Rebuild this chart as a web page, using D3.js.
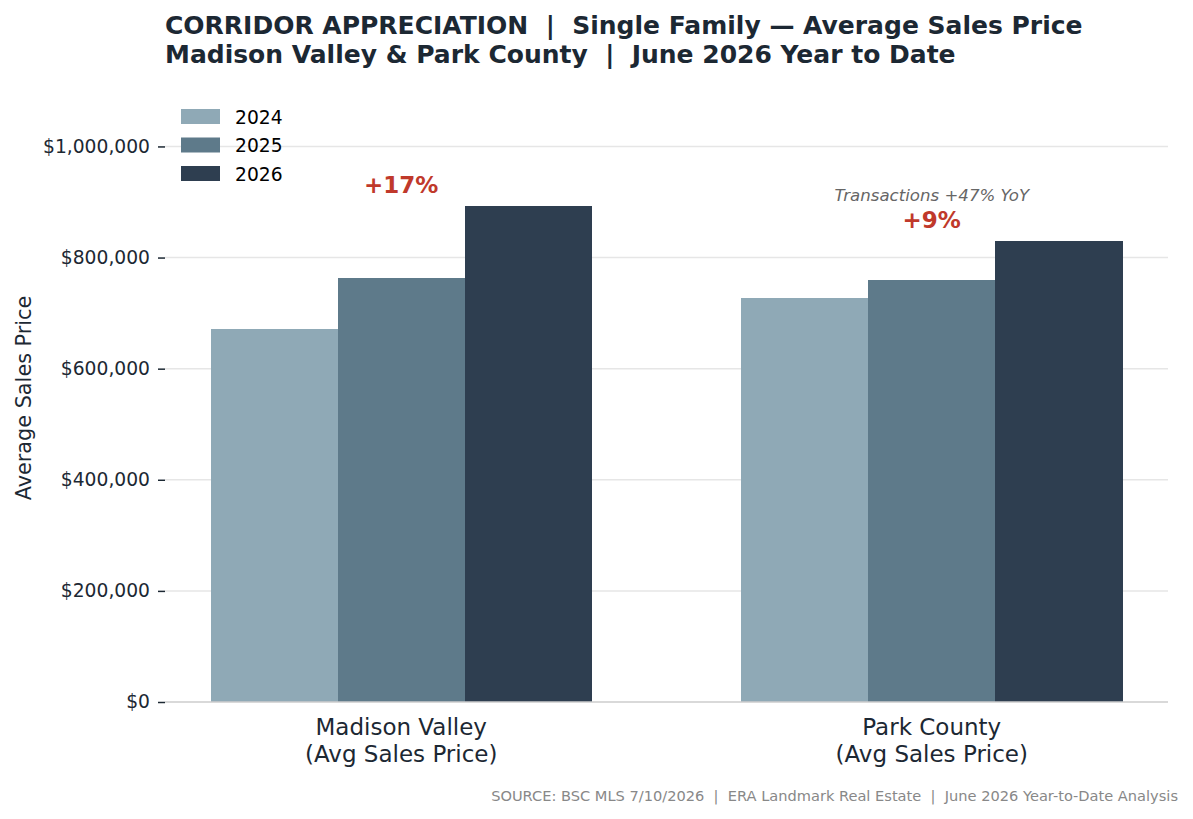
<!DOCTYPE html>
<html>
<head>
<meta charset="utf-8">
<script src="https://cdn.jsdelivr.net/npm/d3@7"></script>
<style>
  html, body { margin: 0; padding: 0; background: #ffffff; }
  svg { display: block; font-family: "DejaVu Sans", sans-serif; }
</style>
</head>
<body>
<div id="chart"></div>
<script>
// chart data
const regions = ["Madison Valley", "Park County"];
const years = ["2024", "2025", "2026"];
const prices2024 = [672000, 728000];
const prices2025 = [764000, 759000];
const prices2026 = [892000, 829000];
const yTicks = [0, 200000, 400000, 600000, 800000, 1000000];
const changeLabels = ["+17%", "+9%"];
const noteLabels = ["", "Transactions +47% YoY"];

const seriesValues = { "2024": prices2024, "2025": prices2025, "2026": prices2026 };
const colors = { "2024": "#8fa9b6", "2025": "#5e7a8a", "2026": "#2e3e50" };

const width = 1193;
const height = 819;
const margin = { top: 102, right: 25, bottom: 117, left: 165 };

const svg = d3.select("#chart")
  .append("svg")
  .attr("width", width)
  .attr("height", height);

const x0 = d3.scaleBand()
  .domain(regions)
  .range([margin.left, width - margin.right])
  .paddingInner(0.2818)
  .paddingOuter(0.0862);

const x1 = d3.scaleBand()
  .domain(years)
  .range([0, x0.bandwidth()]);

const y = d3.scaleLinear()
  .domain([0, 1080000])
  .range([height - margin.bottom, margin.top]);

const fmt = d3.format("$,");

// grid
svg.append("g")
  .selectAll("line")
  .data(yTicks.slice(1))
  .enter()
  .append("line")
  .attr("x1", margin.left)
  .attr("x2", width - margin.right)
  .attr("y1", (d) => y(d))
  .attr("y2", (d) => y(d))
  .attr("stroke", "#e6e6e6")
  .attr("stroke-width", 1.5);

// bars
const groups = svg.append("g")
  .selectAll("g")
  .data(regions)
  .enter()
  .append("g")
  .attr("transform", (d) => `translate(${x0(d)},0)`);

groups.selectAll("rect")
  .data((d, i) => years.map((yr) => ({ year: yr, value: seriesValues[yr][i] })))
  .enter()
  .append("rect")
  .attr("x", (d) => x1(d.year))
  .attr("y", (d) => y(d.value))
  .attr("width", x1.bandwidth() + 0.5)
  .attr("height", (d) => y(0) - y(d.value))
  .attr("fill", (d) => colors[d.year])
  .attr("shape-rendering", "crispEdges");

// y axis
const yAxis = svg.append("g")
  .attr("transform", `translate(${margin.left},0)`)
  .call(d3.axisLeft(y).tickValues(yTicks).tickFormat(fmt).tickSize(7).tickPadding(8));
yAxis.select(".domain").remove();
yAxis.selectAll(".tick line").attr("stroke", "#1c2833").attr("stroke-width", 1.5);
yAxis.selectAll(".tick text")
  .attr("fill", "#1c2833")
  .style("font-family", "DejaVu Sans, sans-serif")
  .style("font-size", "18.7px");

// x axis baseline
svg.append("line")
  .attr("x1", margin.left)
  .attr("x2", width - margin.right)
  .attr("y1", y(0))
  .attr("y2", y(0))
  .attr("stroke", "#cccccc")
  .attr("stroke-width", 1.5);

// x labels
const xLab = svg.append("g")
  .selectAll("text")
  .data(regions)
  .enter()
  .append("text")
  .attr("x", (d) => x0(d) + x0.bandwidth() / 2)
  .attr("y", y(0) + 33)
  .attr("text-anchor", "middle")
  .attr("fill", "#1c2833")
  .style("font-size", "23px");
xLab.append("tspan").text((d) => d);
xLab.append("tspan")
  .attr("x", (d) => x0(d) + x0.bandwidth() / 2)
  .attr("dy", 27)
  .text("(Avg Sales Price)");

// y axis title
svg.append("text")
  .attr("transform", `translate(31, ${398}) rotate(-90)`)
  .attr("text-anchor", "middle")
  .attr("fill", "#1c2833")
  .style("font-size", "20.8px")
  .text("Average Sales Price");

// change annotations
svg.append("g")
  .selectAll("text")
  .data(regions)
  .enter()
  .append("text")
  .attr("x", (d) => x0(d) + x0.bandwidth() / 2)
  .attr("y", (d, i) => y(prices2026[i]) - 13)
  .attr("text-anchor", "middle")
  .attr("fill", "#c0392b")
  .attr("font-weight", "bold")
  .style("font-size", "23px")
  .text((d, i) => changeLabels[i]);

svg.append("g")
  .selectAll("text")
  .data(regions)
  .enter()
  .append("text")
  .attr("x", (d) => x0(d) + x0.bandwidth() / 2)
  .attr("y", (d, i) => y(prices2026[i]) - 40)
  .attr("text-anchor", "middle")
  .attr("fill", "#666666")
  .attr("font-style", "italic")
  .style("font-size", "16.6px")
  .text((d, i) => noteLabels[i]);

// legend
const legend = svg.append("g").attr("transform", "translate(181,109)");
const items = legend.selectAll("g")
  .data(years)
  .enter()
  .append("g")
  .attr("transform", (d, i) => `translate(0,${i * 28.5})`);
items.append("rect")
  .attr("width", 39)
  .attr("height", 15)
  .attr("fill", (d) => colors[d]);
items.append("text")
  .attr("x", 54)
  .attr("y", 14.5)
  .attr("fill", "#000000")
  .style("font-size", "18.7px")
  .text((d) => d);

// title
const title = svg.append("text")
  .attr("x", 165)
  .attr("y", 34)
  .attr("fill", "#1c2833")
  .attr("font-weight", "bold")
  .style("font-size", "25px")
  .style("white-space", "pre");
title.append("tspan").text("CORRIDOR APPRECIATION  |  Single Family \u2014 Average Sales Price");
title.append("tspan").attr("x", 165).attr("dy", 29).text("Madison Valley & Park County  |  June 2026 Year to Date");

// source footer
svg.append("text")
  .attr("x", 1178)
  .attr("y", 801)
  .attr("text-anchor", "end")
  .attr("fill", "#888888")
  .style("font-size", "14.6px")
  .style("white-space", "pre")
  .text("SOURCE: BSC MLS 7/10/2026  |  ERA Landmark Real Estate  |  June 2026 Year-to-Date Analysis");
</script>
</body>
</html>
